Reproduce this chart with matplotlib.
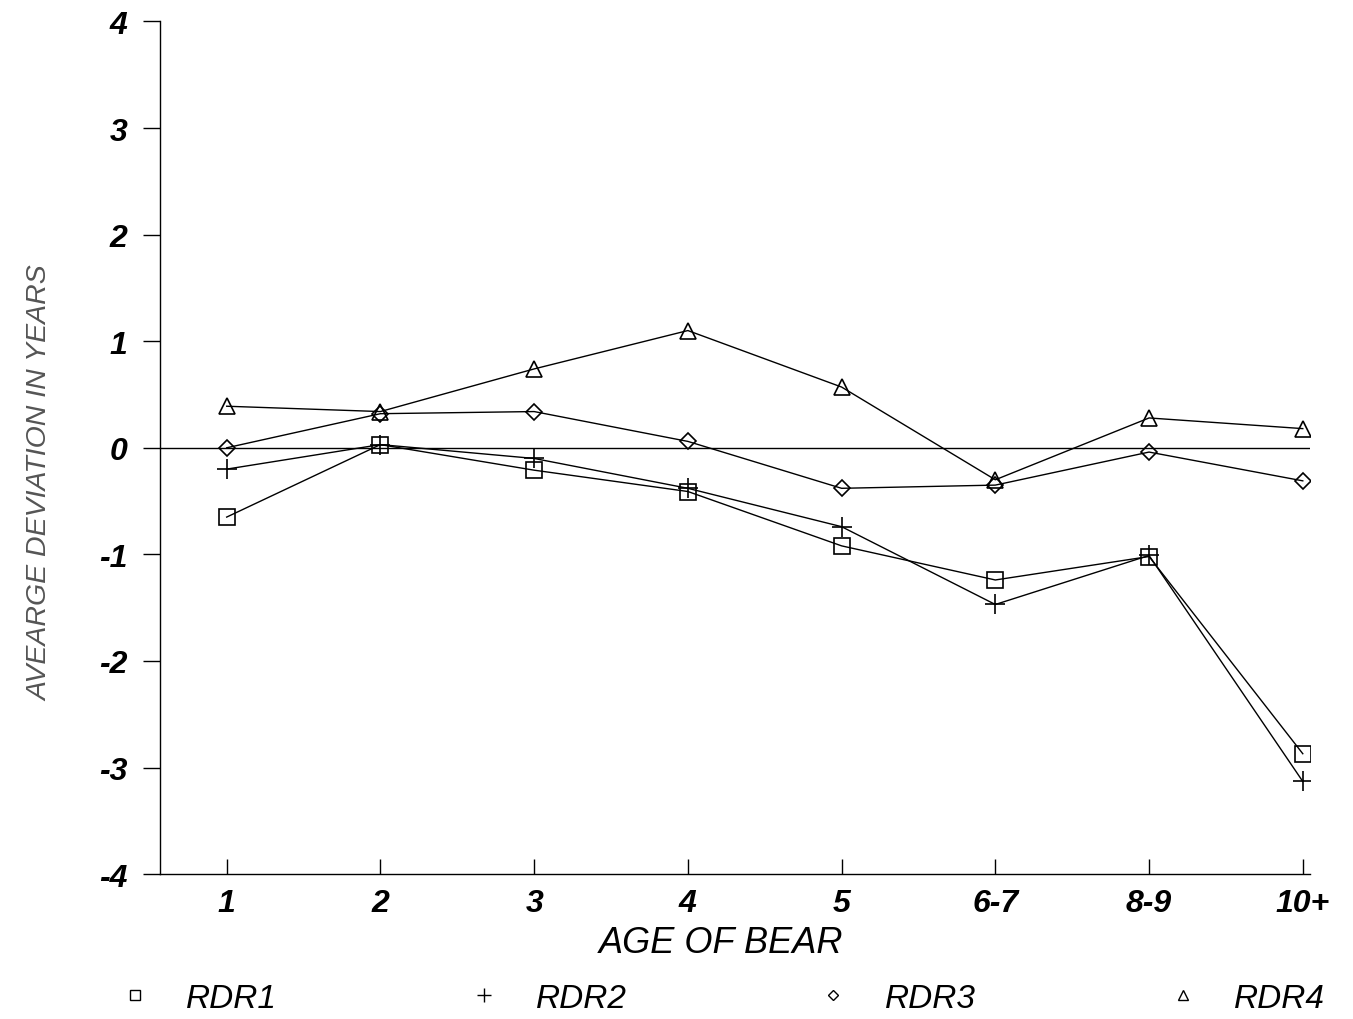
import matplotlib.pyplot as plt
from matplotlib.lines import Line2D

plt.rcParams["axes.unicode_minus"] = False

# age classes on the x axis
ages = ["1", "2", "3", "4", "5", "6-7", "8-9", "10+"]

# average deviation (years) per reader
rdr1 = [-0.65, 0.03, -0.21, -0.41, -0.92, -1.24, -1.02, -2.87]
rdr2 = [-0.20, 0.03, -0.10, -0.38, -0.74, -1.47, -1.01, -3.13]
rdr3 = [0.00, 0.32, 0.34, 0.06, -0.38, -0.35, -0.04, -0.31]
rdr4 = [0.39, 0.34, 0.74, 1.10, 0.57, -0.30, 0.28, 0.18]

series = [
    ("RDR1", rdr1, "s", 11),
    ("RDR2", rdr2, "+", 15),
    ("RDR3", rdr3, "D", 8),
    ("RDR4", rdr4, "^", 11),
]

font = "Liberation Sans"

fig = plt.figure(figsize=(13.53, 10.20), dpi=100)
ax = fig.add_axes([0.118, 0.142, 0.850, 0.836])

x = list(range(len(ages)))
ax.axhline(0, color="black", linewidth=1.0, zorder=1)

for name, vals, marker, ms in series:
    ax.plot(x, vals, color="black", linewidth=1.0, marker=marker,
            markersize=ms, markerfacecolor="none", markeredgecolor="black",
            markeredgewidth=1.2, zorder=2)

ax.set_xlim(-0.436, 7.045)
ax.set_ylim(-4, 4)
ax.set_xticks(x)
ax.set_xticklabels(ages)
ax.set_yticks(range(-4, 5))

for side in ["top", "right"]:
    ax.spines[side].set_visible(False)
for side in ["left", "bottom"]:
    ax.spines[side].set_linewidth(1.0)

ax.tick_params(axis="x", direction="in", length=11, width=1.0, pad=10)
ax.tick_params(axis="y", direction="out", length=12, width=1.0, pad=11)
for lab in ax.get_xticklabels() + ax.get_yticklabels():
    lab.set_fontfamily(font)
    lab.set_fontstyle("italic")
    lab.set_fontweight("bold")
    lab.set_fontsize(23)

ax.set_xlabel("AGE OF BEAR", fontfamily=font, fontstyle="italic",
              fontsize=26)
ax.xaxis.set_label_coords(0.488, -0.06)
ax.set_ylabel("AVEARGE DEVIATION IN YEARS", fontfamily=font,
              fontstyle="italic", fontsize=20.5, color="#555555")
ax.yaxis.set_label_coords(-0.092, 0.46)

handles = [Line2D([], [], linestyle="none", marker=m, markersize=ms * 0.7,
                  markerfacecolor="none", markeredgecolor="black",
                  markeredgewidth=1.0)
           for _, _, m, ms in series]
fig.legend(handles, [s[0] for s in series], loc="center left",
           bbox_to_anchor=(0.065, 0.02), ncol=4, frameon=False,
           handlelength=1.0, handletextpad=1.05, columnspacing=5.7,
           prop={"family": font, "style": "italic", "size": 24})

fig.savefig("out.png", dpi=100)
